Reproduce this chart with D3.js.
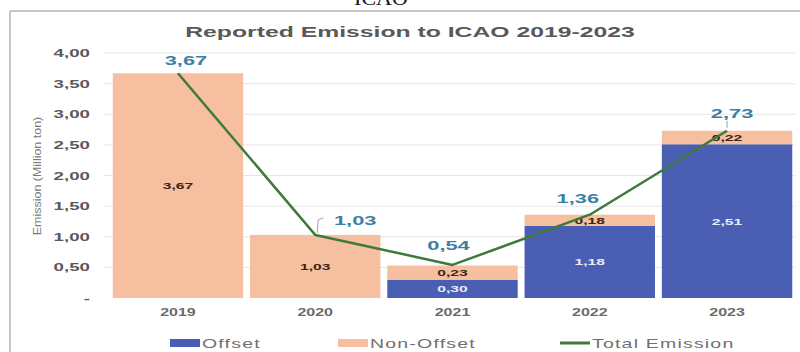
<!DOCTYPE html>
<html>
<head>
  <meta charset="utf-8"/>
  <title>Reported Emission to ICAO 2019-2023</title>
  <script src="https://d3js.org/d3.v7.min.js"></script>
  <style>
    html, body {
      margin: 0;
      padding: 0;
      width: 800px;
      height: 352px;
      overflow: hidden;
      background: #fff;
    }
    svg {
      display: block;
      font-family: "Liberation Sans", Arial, sans-serif;
    }
    .grid line { stroke: #e6e6e6; stroke-width: 1; }
  </style>
</head>
<body>
  <div id="chart"></div>

  <script>
    // chart data
    const years     = ["2019", "2020", "2021", "2022", "2023"];
    const offset    = [0, 0, 0.30, 1.18, 2.51];
    const nonOffset = [3.67, 1.03, 0.23, 0.18, 0.22];
    const total     = [3.67, 1.03, 0.54, 1.36, 2.73];
    const yTicks    = [0, 0.5, 1, 1.5, 2, 2.5, 3, 3.5, 4];

    // where each total label sits relative to its line point (px)
    const labelNudge = [[8, -8], [40, -10], [-4, -15], [-12, -12], [5, -13]];

    const width = 800, height = 352;

    const colors = {
      offset: "#4a5fb3",
      nonOffset: "#f5bfa0",
      line: "#3e7a3b",
      total: "#3a7fa6",
      text: "#595959"
    };

    const svg = d3.select("#chart")
      .append("svg")
      .attr("width", width)
      .attr("height", height);

    // the reference text is stretched sideways, so scale it in x
    function label(parent, x, y, txt, sx) {
      return parent.append("text")
        .attr("transform", `translate(${x},${y}) scale(${sx},1)`)
        .text(txt);
    }

    // frame of the screenshot
    svg.append("line")
      .attr("x1", 10).attr("x2", width).attr("y1", 11).attr("y2", 11)
      .attr("stroke", "#b5b5b5").attr("stroke-width", 1.5);
    svg.append("line")
      .attr("x1", 10).attr("x2", 10).attr("y1", 11).attr("y2", height)
      .attr("stroke", "#b5b5b5").attr("stroke-width", 1.5);

    // heading cut off by the top of the picture
    svg.append("text")
      .attr("x", 381).attr("y", 5)
      .attr("text-anchor", "middle")
      .attr("font-family", "Liberation Serif, serif")
      .attr("font-size", 22)
      .attr("fill", "#111")
      .text("ICAO");

    const x = d3.scaleBand()
      .domain(years)
      .range([110, 795])
      .paddingInner(0.05)
      .paddingOuter(0.02);

    const y = d3.scaleLinear()
      .domain([0, 4])
      .range([298, 53]);

    // gridlines
    svg.append("g").attr("class", "grid")
      .selectAll("line")
      .data(yTicks.filter(d => d > 0))
      .enter().append("line")
      .attr("x1", 104).attr("x2", 795)
      .attr("y1", d => y(d)).attr("y2", d => y(d));

    // y axis (no line, just labels)
    const yAxis = svg.append("g")
      .attr("transform", "translate(90,0)")
      .call(d3.axisLeft(y).tickValues(yTicks).tickSize(0).tickPadding(0)
        .tickFormat(d => d === 0 ? "-" : d3.format(".2f")(d).replace(".", ",")));
    yAxis.select(".domain").remove();
    yAxis.selectAll("text")
      .attr("fill", colors.text)
      .attr("font-size", 11)
      .attr("font-weight", "bold")
      .attr("font-family", "Liberation Sans, Arial, sans-serif")
      .attr("transform", "scale(1.7,1)")
      .attr("x", 0);

    // axis title
    svg.append("text")
      .attr("transform", "translate(41,176) rotate(-90) scale(1.25,1)")
      .attr("text-anchor", "middle")
      .attr("font-size", 10)
      .attr("fill", "#7a7a7a")
      .text("Emission (Million ton)");

    // title
    label(svg, 410, 37, "Reported Emission to ICAO 2019-2023", 1.65)
      .attr("text-anchor", "middle")
      .attr("font-size", 15)
      .attr("font-weight", "bold")
      .attr("fill", colors.text);

    // stacked bars
    const rows = years.map((yr, i) => ({ year: yr, offset: offset[i], nonOffset: nonOffset[i] }));
    const stack = d3.stack().keys(["offset", "nonOffset"])(rows);

    const layers = svg.append("g").selectAll("g")
      .data(stack)
      .enter().append("g")
      .attr("fill", d => colors[d.key]);

    layers.selectAll("rect")
      .data(d => d)
      .enter().append("rect")
      .attr("x", d => x(d.data.year))
      .attr("width", x.bandwidth())
      .attr("y", d => y(d[1]))
      .attr("height", d => y(d[0]) - y(d[1]));

    // segment labels
    const segLabels = svg.append("g");
    stack.forEach(layer => {
      layer.forEach(d => {
        const v = d[1] - d[0];
        if (v <= 0) return;
        label(segLabels, x(d.data.year) + x.bandwidth() / 2, (y(d[0]) + y(d[1])) / 2 + 3.5,
              d3.format(".2f")(v).replace(".", ","), 1.65)
          .attr("text-anchor", "middle")
          .attr("font-size", 9.5)
          .attr("font-weight", "bold")
          .attr("fill", layer.key === "offset" ? "#e8ecf8" : "#3a2616");
      });
    });

    // total emission line
    const pts = years.map((yr, i) => [x(yr) + x.bandwidth() / 2, y(total[i])]);
    svg.append("path")
      .attr("d", d3.line()(pts))
      .attr("fill", "none")
      .attr("stroke", colors.line)
      .attr("stroke-width", 2.5)
      .attr("stroke-linejoin", "round");

    // leader lines for the moved labels
    svg.append("path")
      .attr("d", `M${pts[1][0] + 2},${pts[1][1] - 2} L${pts[1][0] + 3},${pts[1][1] - 15} L${pts[1][0] + 8},${pts[1][1] - 17}`)
      .attr("fill", "none").attr("stroke", "#a0a0a0").attr("stroke-width", 1);
    svg.append("line")
      .attr("x1", pts[4][0]).attr("x2", pts[4][0])
      .attr("y1", pts[4][1] - 3).attr("y2", pts[4][1] - 10)
      .attr("stroke", "#a0a0a0").attr("stroke-width", 1);

    // total labels
    const totals = svg.append("g");
    pts.forEach((p, i) => {
      label(totals, p[0] + labelNudge[i][0], p[1] + labelNudge[i][1],
            d3.format(".2f")(total[i]).replace(".", ","), 1.75)
        .attr("text-anchor", "middle")
        .attr("font-size", 12.5)
        .attr("font-weight", "bold")
        .attr("fill", colors.total);
    });

    // year labels
    const xAxis = svg.append("g");
    years.forEach(yr => {
      label(xAxis, x(yr) + x.bandwidth() / 2, 316, yr, 1.6)
        .attr("text-anchor", "middle")
        .attr("font-size", 10)
        .attr("font-weight", "bold")
        .attr("fill", "#6a6a6a");
    });

    // legend
    const legend = svg.append("g");
    const legendData = [
      { label: "Offset", color: colors.offset, type: "rect", x: 170 },
      { label: "Non-Offset", color: colors.nonOffset, type: "rect", x: 338 },
      { label: "Total Emission", color: colors.line, type: "line", x: 560 }
    ];
    legendData.forEach(d => {
      if (d.type === "rect") {
        legend.append("rect")
          .attr("x", d.x).attr("y", 339)
          .attr("width", 30).attr("height", 8)
          .attr("fill", d.color);
      } else {
        legend.append("line")
          .attr("x1", d.x).attr("x2", d.x + 30)
          .attr("y1", 343).attr("y2", 343)
          .attr("stroke", d.color).attr("stroke-width", 3);
      }
      label(legend, d.x + 32, 348, d.label, 1.5)
        .attr("font-size", 13)
        .attr("letter-spacing", 0.8)
        .attr("fill", "#707070");
    });
  </script>
</body>
</html>
